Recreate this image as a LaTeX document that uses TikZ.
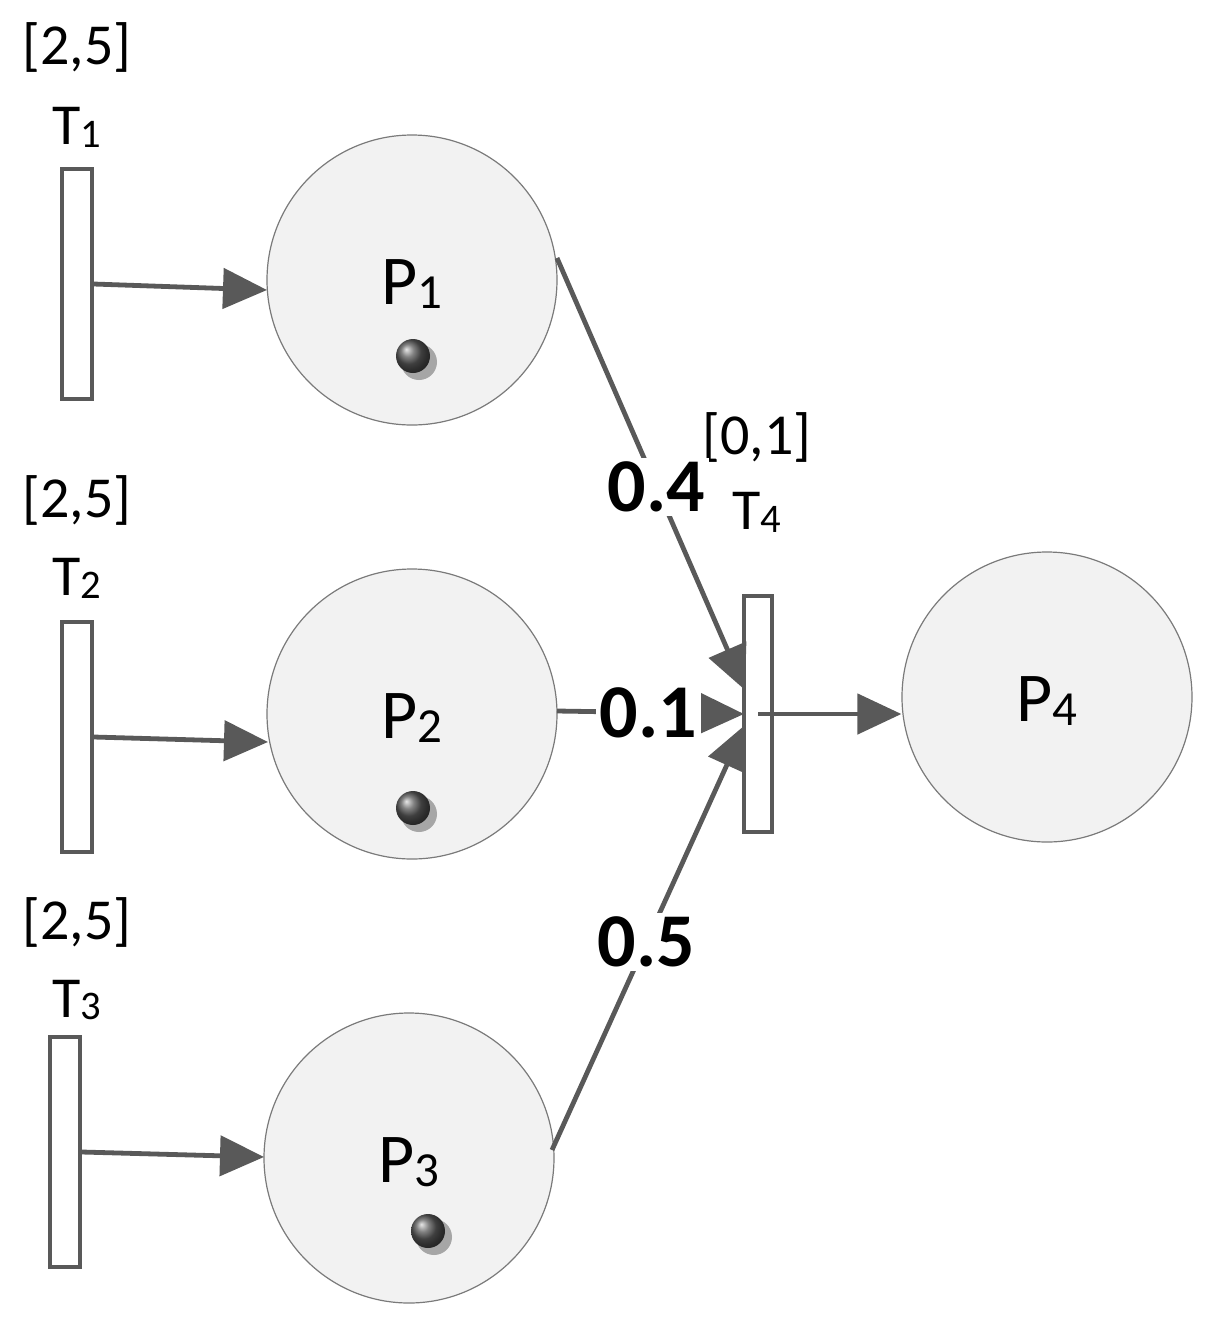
\documentclass[tikz,border=0pt]{standalone}
\usepackage{fontspec}
\setmainfont{Carlito}
\usetikzlibrary{positioning,arrows.meta}
\definecolor{edgegray}{HTML}{595959}
\definecolor{placefill}{HTML}{F2F2F2}
\newcommand{\lowsub}[1]{\raisebox{-0.05em}{\scalebox{0.7}{#1}}}
\begin{document}
\begin{tikzpicture}[
	x=0.5pt,y=-0.5pt,
	place/.style={draw=edgegray!80,fill=placefill,circle,minimum size=145pt,inner sep=0,line width=0.6pt},
	trans/.style={draw=edgegray,fill=white,line width=1.6pt,minimum width=15pt,minimum height=115pt,inner sep=0},
	arc/.style={draw=edgegray,line width=2.4pt,-{Triangle[length=22pt,width=20pt]}},
	wgt/.style={fill=white,inner sep=2pt,font=\fontsize{38}{38}\selectfont\bfseries},
	lbl/.style={font=\fontsize{29}{29}\selectfont},
	plbl/.style={font=\fontsize{35}{35}\selectfont},
	token/.style={circle,inner sep=0,minimum size=17pt,ball color=gray!70!black}
]
	\useasboundingbox (0,0) rectangle (1220,1330);
	% transitions
	\node[trans] (T1) at (77,284) {};
	\node[trans] (T2) at (77,737) {};
	\node[trans] (T3) at (65,1152) {};
	\node[trans,minimum width=14pt,minimum height=118pt] (T4) at (758,714) {};
	\node[lbl] at (77,47) {[2,5]};
	\node[lbl] at (77,127) {T\lowsub{1}};
	\node[lbl] at (77,500) {[2,5]};
	\node[lbl] at (77,578) {T\lowsub{2}};
	\node[lbl] at (77,922) {[2,5]};
	\node[lbl] at (77,1000) {T\lowsub{3}};
	\node[lbl] at (757,437) {[0,1]};
	\node[lbl] at (757,512) {T\lowsub{4}};
	% places
	\node[place] (P1) at (412,280) {};
	\node[place] (P2) at (412,714) {};
	\node[place] (P3) at (409,1158) {};
	\node[place] (P4) at (1047,697) {};
	\node[plbl] at (412,284) {P\lowsub{1}};
	\node[plbl] at (412,718) {P\lowsub{2}};
	\node[plbl] at (409,1162) {P\lowsub{3}};
	\node[plbl] at (1047,701) {P\lowsub{4}};
	% tokens
	\foreach \tx/\ty in {413/356,413/808,428/1231}{
		\fill[gray!70] (\tx+6,\ty+6) circle (9pt);
		\node[token] at (\tx,\ty) {};
	}
	% arcs
	\coordinate (e1) at (267,290);
	\coordinate (e2) at (268,742);
	\coordinate (e3) at (264,1157);
	\draw[arc] (T1.east) -- (e1);
	\draw[arc] (T2.east) -- (e2);
	\draw[arc] (T3.east) -- (e3);
	\draw[arc] (T4.center) -- (P4.west |- T4.center);
	\coordinate (a1) at (557,258);
	\coordinate (a2) at (557,711);
	\coordinate (a3) at (552,1150);
	\coordinate (b1) at (745,690);
	\coordinate (b2) at (744,714);
	\coordinate (b3) at (745,725);
	\draw[arc] (a1) -- node[wgt,pos=0.53]{0.4} (b1);
	\draw[arc] (a2) -- node[wgt,pos=0.49]{0.1} (b2);
	\draw[arc] (a3) -- node[wgt,pos=0.49]{0.5} (b3);
\end{tikzpicture}
\end{document}
